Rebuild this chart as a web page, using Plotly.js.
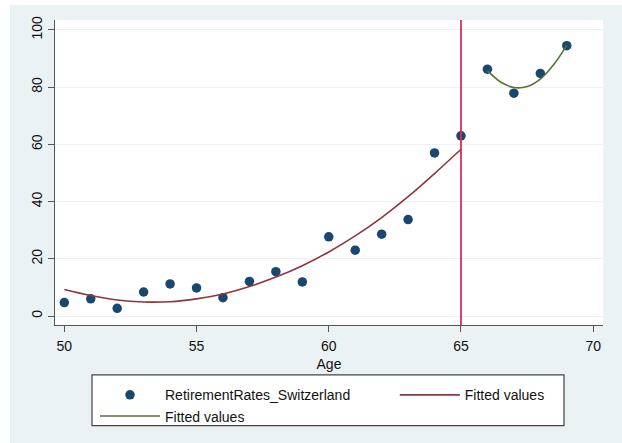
<!DOCTYPE html>
<html>
<head>
<meta charset="utf-8">
<script src="https://cdn.plot.ly/plotly-3.0.1.min.js"></script>
<style>
  html, body { margin: 0; padding: 0; background: #ffffff; }
  #chart { position: absolute; left: 10px; top: 5px; width: 612px; height: 438px; }
</style>
</head>
<body>
<div id="chart"></div>
<script>
// Observed retirement rates (%) by age
var ages = [50, 51, 52, 53, 54, 55, 56, 57, 58, 59, 60, 61, 62, 63, 64, 65, 66, 67, 68, 69];
var rates = [4.7, 6.0, 2.7, 8.4, 11.2, 9.8, 6.4, 12.1, 15.5, 11.9, 27.7, 23.0, 28.6, 33.7, 57.0, 63.0, 86.3, 77.9, 84.8, 94.5];

// Fitted values, ages 50-65
var fitAgesLow = [50, 51, 52, 53, 54, 55, 56, 57, 58, 59, 60, 61, 62, 63, 64, 65];
var fitLow = [9.3, 7.2, 5.6, 4.9, 5.0, 6.0, 7.7, 10.3, 13.6, 17.6, 22.4, 28.0, 34.4, 41.7, 49.8, 58.3];

// Fitted values, ages 66-69
var fitAgesHigh = [66, 66.5, 67, 67.5, 68, 68.5, 69];
var fitHigh = [85.8, 81.8, 79.9, 80.2, 82.8, 87.8, 94.6];

// Threshold age marked by the vertical line
var thresholdAge = 65;

var xTicks = [50, 55, 60, 65, 70];
var yTicks = [0, 20, 40, 60, 80, 100];

var seriesNames = ["RetirementRates_Switzerland", "Fitted values", "Fitted values"];

var font = "Liberation Sans, Arial, Helvetica, sans-serif";

var traces = [
  {
    x: ages, y: rates, type: "scatter", mode: "markers",
    name: seriesNames[0],
    marker: { color: "#1a476f", size: 9.5 },
    legend: "legend"
  },
  {
    x: fitAgesLow, y: fitLow, type: "scatter", mode: "lines",
    name: seriesNames[1],
    line: { color: "#90353b", width: 1.6, shape: "spline" },
    legend: "legend2"
  },
  {
    x: fitAgesHigh, y: fitHigh, type: "scatter", mode: "lines",
    name: seriesNames[2],
    line: { color: "#55752f", width: 1.6, shape: "spline" },
    legend: "legend"
  }
];

var legendCommon = {
  orientation: "v",
  bgcolor: "rgba(0,0,0,0)",
  borderwidth: 0,
  font: { family: font, size: 14, color: "#111" },
  itemwidth: 60,
  tracegroupgap: 0,
  xanchor: "left",
  yanchor: "top",
  traceorder: "normal"
};

var layout = {
  width: 612,
  height: 438,
  margin: { l: 45, r: 19, t: 15, b: 117 },
  paper_bgcolor: "#eaf2f3",
  plot_bgcolor: "#ffffff",
  font: { family: font, size: 14, color: "#111" },
  showlegend: true,
  legend: Object.assign({}, legendCommon, { x: 0.073, y: -0.174 }),
  legend2: Object.assign({}, legendCommon, { x: 0.62, y: -0.174 }),
  xaxis: {
    range: [49.648, 70.37],
    tickvals: xTicks,
    ticktext: xTicks.map(String),
    ticks: "outside", ticklen: 6, tickwidth: 1, tickcolor: "#555",
    ticklabelstandoff: 2,
    showline: true, linecolor: "#555", linewidth: 1,
    showgrid: false, zeroline: false,
    tickfont: { family: font, size: 14, color: "#111" },
    title: { text: "Age", font: { family: font, size: 14, color: "#111" }, standoff: 6 },
    automargin: false
  },
  yaxis: {
    range: [-3.14, 103.48],
    tickvals: yTicks,
    ticktext: yTicks.map(String),
    tickangle: -90,
    ticks: "outside", ticklen: 6, tickwidth: 1, tickcolor: "#555",
    showline: true, linecolor: "#555", linewidth: 1,
    showgrid: true, gridcolor: "#eaf2f3", gridwidth: 1,
    zeroline: false,
    tickfont: { family: font, size: 14, color: "#111" },
    automargin: false
  },
  shapes: [
    {
      type: "line", xref: "x", yref: "paper",
      x0: thresholdAge, x1: thresholdAge, y0: 0, y1: 1,
      line: { color: "#dc2f55", width: 1.8 }
    },
    {
      type: "rect", xref: "paper", yref: "paper",
      x0: 0.0675, x1: 0.9288, y0: -0.1634, y1: -0.330,
      fillcolor: "#ffffff",
      line: { color: "#444", width: 1.2 },
      layer: "below"
    }
  ]
};

Plotly.newPlot("chart", traces, layout, { displayModeBar: false, staticPlot: true });
</script>
</body>
</html>
